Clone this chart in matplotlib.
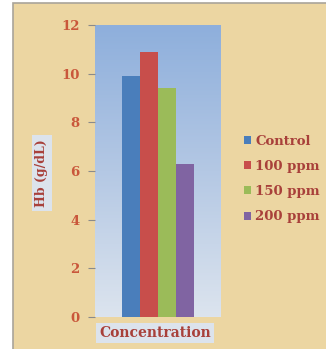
import numpy as np
import matplotlib
matplotlib.use("Agg")
import matplotlib.pyplot as plt
from matplotlib.patches import Rectangle
from matplotlib.colors import LinearSegmentedColormap

groups = ["Control", "100 ppm", "150 ppm", "200 ppm"]
hb = [9.9, 10.9, 9.4, 6.3]
colors = ["#4A7EBB", "#C84E4B", "#9BBB59", "#8064A2"]
yticks = [0, 2, 4, 6, 8, 10, 12]

label_col = "#A8403A"
tick_col = "#C9573B"
paper = "#ECD6A2"

plt.rcParams["font.family"] = ["DejaVu Serif"]

fig = plt.figure(figsize=(3.26, 3.49), dpi=100)
fig.patch.set_facecolor("white")

# parchment panel with grey edge on top / left
fig.patches.append(Rectangle((13 / 326, -0.05), 1.1, 1.05 - 3 / 349, transform=fig.transFigure,
                             facecolor=paper, edgecolor="#A9A49A", linewidth=1.2, zorder=-10))

ax = fig.add_axes([95 / 326, 32 / 349, 126 / 326, 292 / 349])
ax.set_xlim(-2, 5)
ax.set_ylim(0, 12)
ax.patch.set_alpha(0)

# blue gradient plot area
cmap = LinearSegmentedColormap.from_list("bg", ["#DCE4EE", "#B4C8E4", "#8EAFDC"])
grad = np.linspace(0, 1, 256).reshape(-1, 1)
ax.imshow(grad, extent=(-2, 5, 0, 12), origin="lower", aspect="auto", cmap=cmap, zorder=0)

bars = []
for i, (g, v, c) in enumerate(zip(groups, hb, colors)):
    b = ax.bar(i, v, width=1.0, color=c, label=g, zorder=2)
    bars.append(b)

for s in ax.spines.values():
    s.set_visible(False)
ax.set_xticks([])
ax.set_yticks(yticks)
ax.tick_params(axis="y", length=5, width=0.8, color="#8A8A8A", pad=6,
               labelcolor=tick_col, labelsize=9.5)
for t in ax.get_yticklabels():
    t.set_fontweight("bold")

fig.text(42 / 326, 1 - 173 / 349, "Hb (g/dL)", rotation=90, ha="center", va="center",
         fontsize=9, fontweight="bold", color=label_col,
         bbox=dict(boxstyle="square,pad=0.3", facecolor="#DCE3EC", edgecolor="none"))
fig.text(155 / 326, 1 - 333 / 349, "Concentration", ha="center", va="center",
         fontsize=10, fontweight="bold", color=label_col,
         bbox=dict(boxstyle="square,pad=0.2", facecolor="#DCE3EC", edgecolor="none"))

leg = fig.legend(handles=[b[0] for b in bars], labels=groups, loc="center left",
                 bbox_to_anchor=(244 / 326, 1 - 179 / 349), frameon=False,
                 fontsize=9.5, handlelength=0.55, handleheight=0.55, handletextpad=0.3,
                 labelspacing=0.92, borderaxespad=0, borderpad=0)
for t in leg.get_texts():
    t.set_color(label_col)
    t.set_fontweight("bold")

fig.savefig("out.png", dpi=100)
